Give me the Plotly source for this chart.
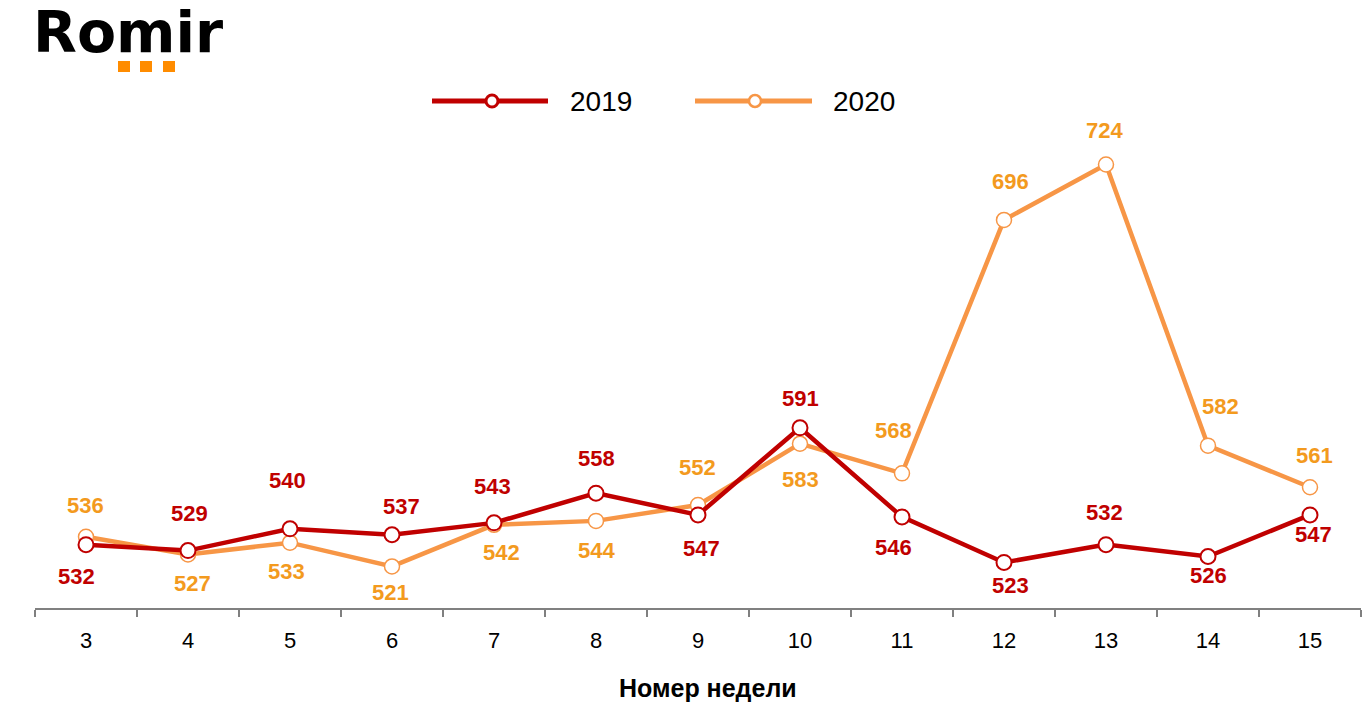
import plotly.graph_objects as go

weeks = ["3", "4", "5", "6", "7", "8", "9", "10", "11", "12", "13", "14", "15"]
values_2019 = [532, 529, 540, 537, 543, 558, 547, 591, 546, 523, 532, 526, 547]
values_2020 = [536, 527, 533, 521, 542, 544, 552, 583, 568, 696, 724, 582, 561]

# label offsets from their point, in pixels (styling only)
dy_2019 = [-32, 37, 48, 28, 36, 35, -34, 29, -31, -23, 32, -19, -20]
dx_2019 = [-10, 1, -3, 9, -2, 0, 3, 0, -9, 6, -2, 0, 3]
dy_2020 = [31, -29, -29, -26, -28, -30, 38, -36, 43, 38, 34, 39, 32]
dx_2020 = [-1, 4, -4, -2, 7, 0, -1, 0, -9, 6, -2, 12, 4]

RED = "#C00000"
ORANGE_LINE = "#F79646"
ORANGE_TEXT = "#F39A1E"
FONT = "Liberation Sans, Arial, sans-serif"

# page has 8px body margin; figure pixel = page pixel - 8
OFF = 8
W, H = 1354, 702
ML, MR, MT, MB = 35 - OFF, 1, 113 - OFF, 102
pw, ph = W - ML - MR, H - MT - MB


def px2paper(x, y):
    """page pixel -> paper coordinates"""
    return (x - OFF - ML) / pw, (H - MB - (y - OFF)) / ph


fig = go.Figure()
fig.add_trace(go.Scatter(
    x=weeks, y=values_2020, mode="lines+markers", name="2020",
    line=dict(color=ORANGE_LINE, width=4.5),
    marker=dict(size=15, color="white", line=dict(color=ORANGE_LINE, width=1.5)),
    showlegend=False, cliponaxis=False))
fig.add_trace(go.Scatter(
    x=weeks, y=values_2019, mode="lines+markers", name="2019",
    line=dict(color=RED, width=4.5),
    marker=dict(size=15, color="white", line=dict(color=RED, width=2)),
    showlegend=False, cliponaxis=False))

annotations = []
for vals, dys, dxs, col in [(values_2019, dy_2019, dx_2019, RED),
                            (values_2020, dy_2020, dx_2020, ORANGE_TEXT)]:
    for i, (v, dy, dx) in enumerate(zip(vals, dys, dxs)):
        annotations.append(dict(
            x=i, y=v, xref="x", yref="y", text="<b>%d</b>" % v, showarrow=False,
            yshift=dy, xshift=dx, font=dict(family=FONT, size=22, color=col)))


def page_text(x, y, text, size, xanchor="left", color="black", family=FONT):
    px, py = px2paper(x, y)
    annotations.append(dict(x=px, y=py, xref="paper", yref="paper", text=text,
                            showarrow=False, xanchor=xanchor, yanchor="middle",
                            font=dict(family=family, size=size, color=color)))


page_text(31, 32, "<b>Romir</b>", 57, family="DejaVu Sans, sans-serif")
page_text(568, 101, "2019", 28)
page_text(831, 101, "2020", 28)
page_text(708, 688, "<b>Номер недели</b>", 25, xanchor="center")

shapes = []
for sx in (118, 140, 163):
    x0, y0 = px2paper(sx, 72)
    x1, y1 = px2paper(sx + 12, 61)
    shapes.append(dict(type="rect", xref="paper", yref="paper", x0=x0, y0=y0, x1=x1, y1=y1,
                       fillcolor="#FF8C00", line=dict(width=0)))
for (lx0, lx1, mx, col, lw) in [(432, 548, 492, RED, 3), (695, 812, 755, ORANGE_LINE, 2.5)]:
    a0, b0 = px2paper(lx0, 101)
    a1, b1 = px2paper(lx1, 101)
    shapes.append(dict(type="line", xref="paper", yref="paper", x0=a0, y0=b0, x1=a1, y1=b1,
                       line=dict(color=col, width=5)))
    c0, d0 = px2paper(mx - 6, 107)
    c1, d1 = px2paper(mx + 6, 95)
    shapes.append(dict(type="circle", xref="paper", yref="paper", x0=c0, y0=d0, x1=c1, y1=d1,
                       fillcolor="white", line=dict(color=col, width=lw)))

fig.update_layout(
    width=W, height=H,
    margin=dict(l=ML, r=MR, t=MT, b=MB),
    paper_bgcolor="white", plot_bgcolor="white",
    annotations=annotations, shapes=shapes,
    font=dict(family=FONT),
    xaxis=dict(type="category", tickson="boundaries", showgrid=False, zeroline=False,
               showline=True, linecolor="#808080", linewidth=2,
               ticks="outside", ticklen=7, tickwidth=2, tickcolor="#808080",
               ticklabelstandoff=12,
               tickfont=dict(family=FONT, size=22, color="black"), range=[-0.5, 12.5]),
    yaxis=dict(range=[500, 750], visible=False, showgrid=False, zeroline=False),
)

fig.write_html("out.html")
